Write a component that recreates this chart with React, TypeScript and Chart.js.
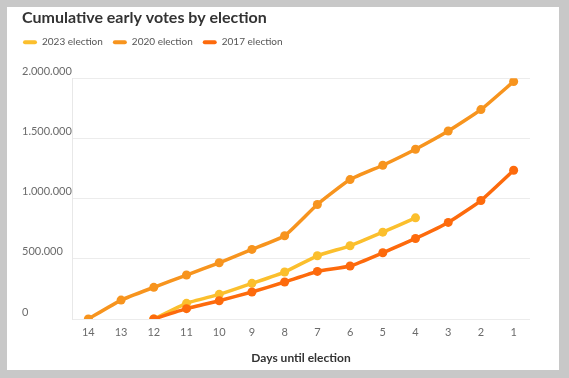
import React, { useEffect, useRef } from 'react';
import { Chart, registerables } from 'chart.js';

Chart.register(...registerables);

const days = ['14', '13', '12', '11', '10', '9', '8', '7', '6', '5', '4', '3', '2', '1'];
const votes2023 = [null, null, 0, 130000, 205000, 296000, 390000, 525000, 608000, 721000, 840000, null, null, null];
const votes2020 = [0, 157000, 263000, 365000, 467000, 578000, 691000, 951000, 1158000, 1277000, 1410000, 1561000, 1739000, 1973000];
const votes2017 = [null, null, 0, 86000, 152000, 224000, 307000, 395000, 440000, 550000, 669000, 802000, 984000, 1235000];
const seriesLabels = ['2023 election', '2020 election', '2017 election'];
const seriesColors = ['#fbbf2d', '#f7941e', '#fd6a0c'];
const yMin = 0;
const yMax = 2000000;
const yStep = 500000;

const FONT = 'Lato, "Noto Sans", sans-serif';

function fmt(n: number): string {
  return Math.round(n).toString().replace(/\B(?=(\d{3})+(?!\d))/g, '.');
}

const layoutTweaks = {
  id: 'layoutTweaks',
  afterInit(chart: any) {
    const lg = chart.legend;
    if (!lg || lg._patched) return;
    const orig = lg.fit.bind(lg);
    lg.fit = function () {
      orig();
      lg.height += 21;
    };
    lg._patched = true;
  },
  afterLayout(chart: any) {
    const lg = chart.legend;
    if (lg) {
      lg.left -= 9;
      lg.right -= 9;
    }
  },
};

export default function App() {
  const ref = useRef<HTMLCanvasElement>(null);

  useEffect(() => {
    if (!ref.current) return;
    const series = [votes2023, votes2020, votes2017];
    const orders = [1, 2, 0];
    const chart = new Chart(ref.current, {
      type: 'line',
      data: {
        labels: days,
        datasets: series.map((d, i) => ({
          label: seriesLabels[i],
          data: d,
          borderColor: seriesColors[i],
          backgroundColor: seriesColors[i],
          pointBackgroundColor: seriesColors[i],
          pointBorderWidth: 0,
          pointRadius: 4.5,
          borderWidth: 3.5,
          tension: 0.15,
          spanGaps: false,
          order: orders[i],
        })),
      },
      options: {
        responsive: false,
        animation: false,
        layout: { padding: { left: 15, right: 29, top: 0, bottom: 4.4 } },
        plugins: {
          title: {
            display: true,
            text: 'Cumulative early votes by election',
            align: 'start',
            color: '#333333',
            font: { family: FONT, size: 16, weight: 'bold' },
            padding: { top: 1, bottom: 0 },
          },
          legend: {
            display: true,
            position: 'top',
            align: 'start',
            labels: {
              boxWidth: 14,
              boxHeight: 4,
              padding: 10,
              color: '#555555',
              font: { family: FONT, size: 10 },
              useBorderRadius: true,
              borderRadius: 2,
              generateLabels: () =>
                seriesLabels.map((t, i) => ({
                  text: t,
                  fillStyle: seriesColors[i],
                  strokeStyle: seriesColors[i],
                  lineWidth: 0,
                  borderRadius: 2,
                  hidden: false,
                  datasetIndex: i,
                  fontColor: '#555555',
                })),
            },
          },
          tooltip: { enabled: false },
        },
        scales: {
          x: {
            offset: true,
            grid: { display: false, drawTicks: false },
            border: { display: false },
            ticks: {
              color: '#6b6b6b',
              font: { family: FONT, size: 11 },
              padding: 7,
              autoSkip: false,
              maxRotation: 0,
            },
            title: {
              display: true,
              text: 'Days until election',
              color: '#333333',
              font: { family: FONT, size: 12, weight: 'bold' },
              padding: { top: 5, bottom: 0 },
            },
          },
          y: {
            min: yMin,
            max: yMax,
            grid: { color: '#ececec', drawTicks: false, lineWidth: 1 },
            border: { display: true, color: '#e8e8e8' },
            ticks: {
              stepSize: yStep,
              color: '#6b6b6b',
              font: { family: FONT, size: 11 },
              crossAlign: 'far',
              labelOffset: -7,
              padding: 2,
              callback: (v: any) => fmt(Number(v)),
            },
            afterFit: (scale: any) => {
              scale.width = 50;
              scale.paddingTop = 0;
              scale.paddingBottom = 0;
            },
          },
        },
      },
      plugins: [layoutTweaks],
    } as any);
    return () => chart.destroy();
  }, []);

  return (
    <div style={{ position: 'fixed', left: 0, top: 0, width: 569, height: 378, background: '#c8c8c8' }}>
      <div style={{ position: 'absolute', left: 7, top: 7, width: 552, height: 363, background: '#ffffff' }}>
        <canvas ref={ref} width={552} height={363} style={{ display: 'block', width: 552, height: 363 }} />
      </div>
    </div>
  );
}
